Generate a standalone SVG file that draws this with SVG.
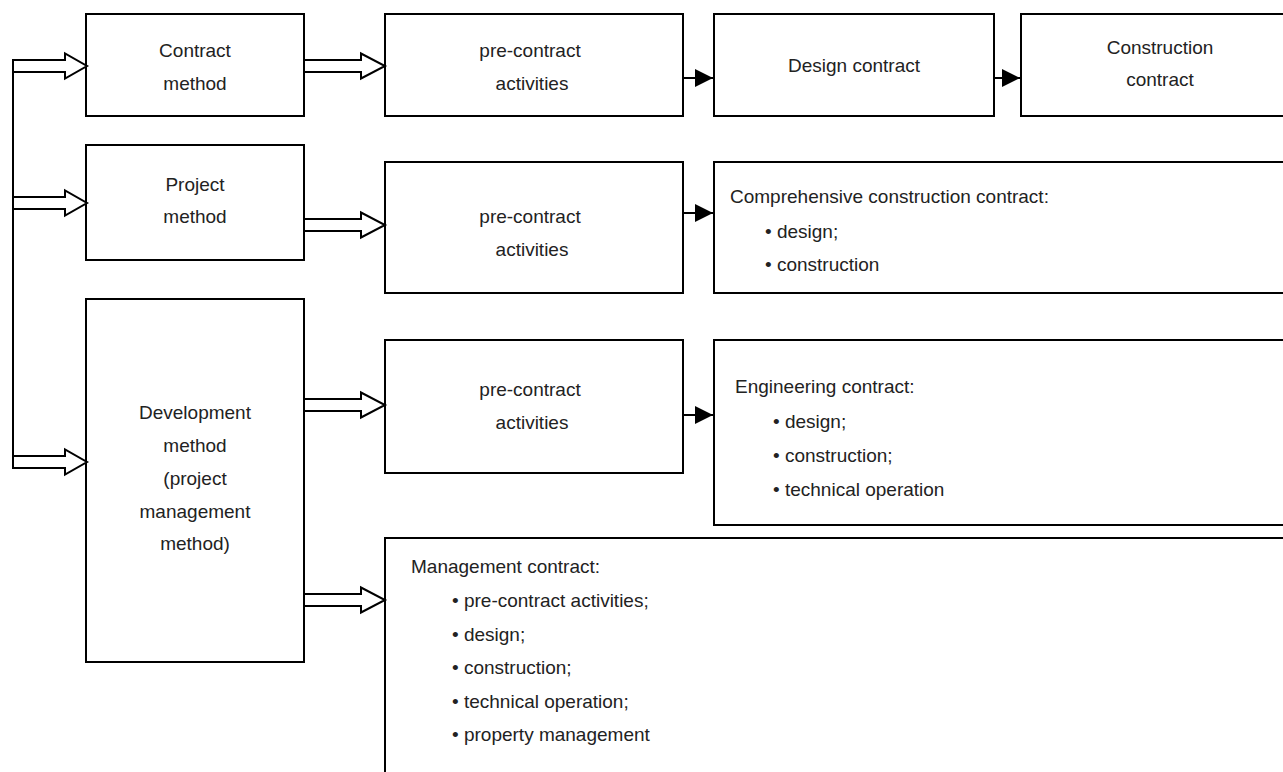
<svg xmlns="http://www.w3.org/2000/svg" width="1283" height="772" viewBox="0 0 1283 772">
<defs>
<style>
.box{fill:#fff;stroke:#000;stroke-width:2}
.hol{fill:#fff;stroke:#000;stroke-width:2;stroke-linejoin:miter}
.ln{stroke:#000;stroke-width:2;fill:none}
.t{font-family:"Liberation Sans",Arial,sans-serif;font-size:19px;fill:#222}
.c{text-anchor:middle}
</style>
<marker id="ah" markerWidth="18" markerHeight="18" viewBox="0 0 18 18" refX="18" refY="9" orient="auto" markerUnits="userSpaceOnUse">
<path d="M0,0 L18,9 L0,18 Z" fill="#000"/>
</marker>
</defs>
<rect width="1283" height="772" fill="#fff"/>

<g id="nodeA1"><rect class="box" x="86" y="14" width="218" height="102"/>
<text class="t c" x="195" y="57">Contract</text><text class="t c" x="195" y="90">method</text></g>
<g id="nodeA2"><rect class="box" x="86" y="145" width="218" height="115"/>
<text class="t c" x="195" y="191">Project</text><text class="t c" x="195" y="223">method</text></g>
<g id="nodeA3"><rect class="box" x="86" y="299" width="218" height="363"/>
<text class="t c" x="195" y="419">Development</text><text class="t c" x="195" y="452">method</text><text class="t c" x="195" y="485">(project</text><text class="t c" x="195" y="518">management</text><text class="t c" x="195" y="550">method)</text></g>

<g id="nodeB1"><rect class="box" x="385" y="14" width="298" height="102"/>
<text class="t c" x="530" y="57">pre-contract</text><text class="t c" x="532" y="90">activities</text></g>
<g id="nodeB2"><rect class="box" x="385" y="162" width="298" height="131"/>
<text class="t c" x="530" y="223">pre-contract</text><text class="t c" x="532" y="256">activities</text></g>
<g id="nodeB3"><rect class="box" x="385" y="340" width="298" height="133"/>
<text class="t c" x="530" y="396">pre-contract</text><text class="t c" x="532" y="429">activities</text></g>

<g id="nodeC1"><rect class="box" x="714" y="14" width="280" height="102"/>
<text class="t c" x="854" y="72">Design contract</text></g>
<g id="nodeD1"><rect class="box" x="1021" y="14" width="300" height="102"/>
<text class="t c" x="1160" y="54">Construction</text><text class="t c" x="1160" y="86">contract</text></g>

<g id="nodeC2"><rect class="box" x="714" y="162" width="600" height="131"/>
<text class="t" x="730" y="203">Comprehensive construction contract:</text>
<text class="t" x="765" y="238">• design;</text>
<text class="t" x="765" y="271">• construction</text></g>

<g id="nodeC3"><rect class="box" x="714" y="340" width="600" height="185"/>
<text class="t" x="735" y="393">Engineering contract:</text>
<text class="t" x="773" y="428">• design;</text>
<text class="t" x="773" y="462">• construction;</text>
<text class="t" x="773" y="496">• technical operation</text></g>

<g id="nodeM"><rect class="box" x="385" y="538" width="950" height="300"/>
<text class="t" x="411" y="573">Management contract:</text>
<text class="t" x="452" y="607">• pre-contract activities;</text>
<text class="t" x="452" y="641">• design;</text>
<text class="t" x="452" y="674">• construction;</text>
<text class="t" x="452" y="708">• technical operation;</text>
<text class="t" x="452" y="741">• property management</text></g>

<g id="connectors">
<line class="ln" x1="13" y1="59" x2="13" y2="469"/>
<path class="hol" d="M13,60 L65,60 L65,53.5 L87,66 L65,78.5 L65,72 L13,72 Z"/>
<path class="hol" d="M13,197 L65,197 L65,190.5 L87,203 L65,215.5 L65,209 L13,209 Z"/>
<path class="hol" d="M13,456 L65,456 L65,449.5 L87,462 L65,474.5 L65,468 L13,468 Z"/>

<path class="hol" d="M304,60 L361,60 L361,53.5 L385,66 L361,78.5 L361,72 L304,72 Z"/>
<path class="hol" d="M304,219 L361,219 L361,212.5 L385,225 L361,237.5 L361,231 L304,231 Z"/>
<path class="hol" d="M304,399 L361,399 L361,392.5 L385,405 L361,417.5 L361,411 L304,411 Z"/>
<path class="hol" d="M304,594 L361,594 L361,587.5 L385,600 L361,612.5 L361,606 L304,606 Z"/>

<line class="ln" x1="683" y1="78" x2="713" y2="78" marker-end="url(#ah)"/>
<line class="ln" x1="994" y1="78" x2="1020" y2="78" marker-end="url(#ah)"/>
<line class="ln" x1="683" y1="213" x2="713" y2="213" marker-end="url(#ah)"/>
<line class="ln" x1="683" y1="415" x2="713" y2="415" marker-end="url(#ah)"/>
</g>
</svg>
